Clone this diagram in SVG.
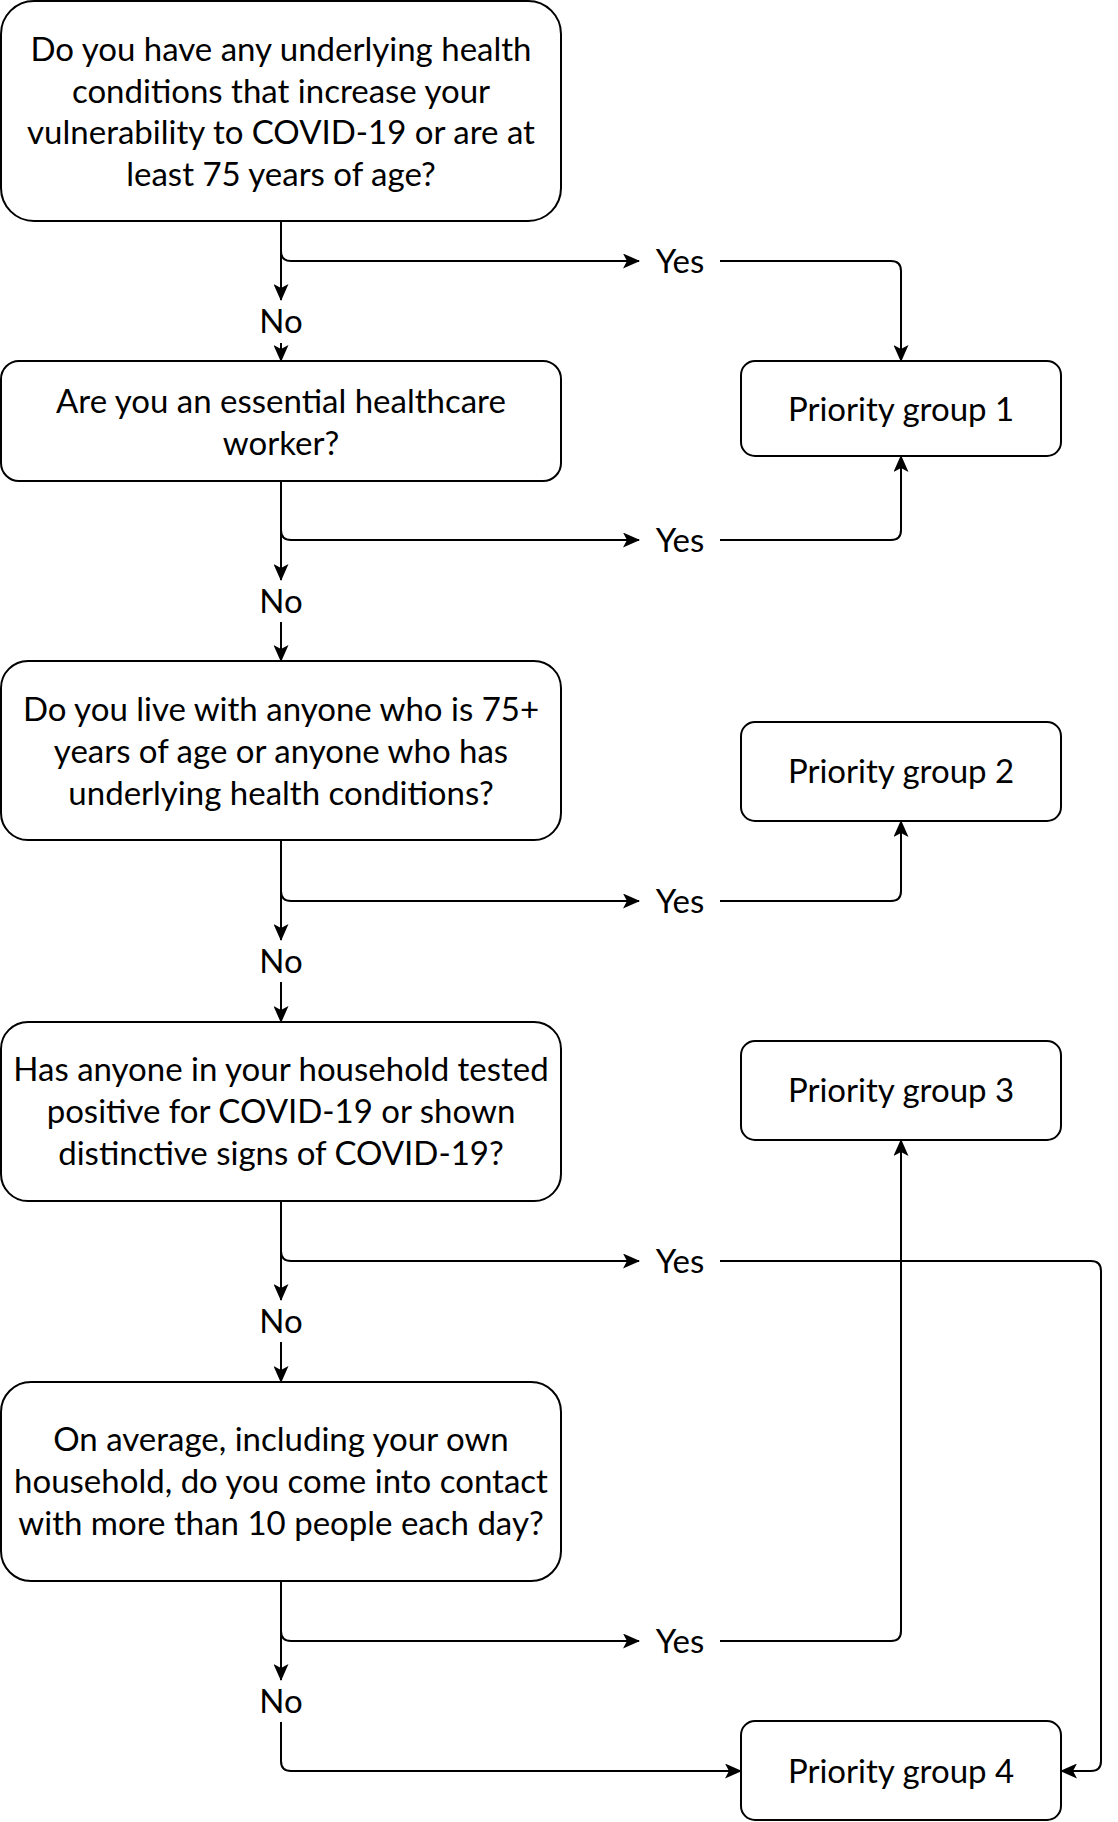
<svg xmlns="http://www.w3.org/2000/svg" width="1118" height="1822" viewBox="0 0 1118 1822">
<style>
.box{fill:#fff;stroke:#000;stroke-width:2}
.t{font-family:Lato,"Open Sans","Liberation Sans",sans-serif;font-size:33px;fill:#000;text-anchor:middle;dominant-baseline:central}
.e{fill:none;stroke:#000;stroke-width:2}
</style>
<defs>
<marker id="ah" markerUnits="userSpaceOnUse" markerWidth="17" markerHeight="15" viewBox="0 0 17 15" refX="16" refY="7.5" orient="auto">
<path d="M0,0 L17,7.5 L0,15 L4,7.5 Z" fill="#000"/>
</marker>
</defs>
<rect width="1118" height="1822" fill="#fff"/>
<g id="q1"><rect class="box" x="1" y="1" width="560" height="220" rx="33"/>
<text class="t" x="281" y="48">Do you have any underlying health</text>
<text class="t" x="281" y="90">conditions that increase your</text>
<text class="t" x="281" y="131">vulnerability to COVID-19 or are at</text>
<text class="t" x="281" y="173">least 75 years of age?</text></g>
<g id="q2"><rect class="box" x="1" y="361" width="560" height="120" rx="18"/>
<text class="t" x="281" y="400">Are you an essential healthcare</text>
<text class="t" x="281" y="442">worker?</text></g>
<g id="q3"><rect class="box" x="1" y="661" width="560" height="179" rx="27"/>
<text class="t" x="281" y="708">Do you live with anyone who is 75+</text>
<text class="t" x="281" y="750">years of age or anyone who has</text>
<text class="t" x="281" y="792">underlying health conditions?</text></g>
<g id="q4"><rect class="box" x="1" y="1022" width="560" height="179" rx="27"/>
<text class="t" x="281" y="1068">Has anyone in your household tested</text>
<text class="t" x="281" y="1110">positive for COVID-19 or shown</text>
<text class="t" x="281" y="1152">distinctive signs of COVID-19?</text></g>
<g id="q5"><rect class="box" x="1" y="1382" width="560" height="199" rx="30"/>
<text class="t" x="281" y="1438">On average, including your own</text>
<text class="t" x="281" y="1480">household, do you come into contact</text>
<text class="t" x="281" y="1522">with more than 10 people each day?</text></g>
<g id="pg1"><rect class="box" x="741" y="361" width="320" height="95" rx="14"/><text class="t" x="901" y="408">Priority group 1</text></g>
<g id="pg2"><rect class="box" x="741" y="722" width="320" height="99" rx="14"/><text class="t" x="901" y="770">Priority group 2</text></g>
<g id="pg3"><rect class="box" x="741" y="1041" width="320" height="99" rx="14"/><text class="t" x="901" y="1089">Priority group 3</text></g>
<g id="pg4"><rect class="box" x="741" y="1721" width="320" height="99" rx="14"/><text class="t" x="901" y="1770">Priority group 4</text></g>
<g id="labels">
<text class="t" x="680" y="260">Yes</text>
<text class="t" x="680" y="539">Yes</text>
<text class="t" x="680" y="900">Yes</text>
<text class="t" x="680" y="1260">Yes</text>
<text class="t" x="680" y="1640">Yes</text>
<text class="t" x="281" y="320">No</text>
<text class="t" x="281" y="600">No</text>
<text class="t" x="281" y="960">No</text>
<text class="t" x="281" y="1320">No</text>
<text class="t" x="281" y="1700">No</text>
</g>
<g id="connectors">
<path class="e" d="M281,221 L281,251 Q281,261 291,261 L639,261" marker-end="url(#ah)"/>
<path class="e" d="M281,221 L281,300" marker-end="url(#ah)"/>
<path class="e" d="M281,343 L281,361" marker-end="url(#ah)"/>
<path class="e" d="M720,261 L891,261 Q901,261 901,271 L901,361" marker-end="url(#ah)"/>
<path class="e" d="M281,481 L281,530 Q281,540 291,540 L639,540" marker-end="url(#ah)"/>
<path class="e" d="M281,481 L281,580" marker-end="url(#ah)"/>
<path class="e" d="M281,622 L281,661" marker-end="url(#ah)"/>
<path class="e" d="M720,540 L891,540 Q901,540 901,530 L901,456" marker-end="url(#ah)"/>
<path class="e" d="M281,840 L281,891 Q281,901 291,901 L639,901" marker-end="url(#ah)"/>
<path class="e" d="M281,840 L281,940" marker-end="url(#ah)"/>
<path class="e" d="M281,982 L281,1022" marker-end="url(#ah)"/>
<path class="e" d="M720,901 L891,901 Q901,901 901,891 L901,821" marker-end="url(#ah)"/>
<path class="e" d="M281,1201 L281,1251 Q281,1261 291,1261 L639,1261" marker-end="url(#ah)"/>
<path class="e" d="M281,1201 L281,1300" marker-end="url(#ah)"/>
<path class="e" d="M281,1342 L281,1382" marker-end="url(#ah)"/>
<path class="e" d="M720,1261 L1091,1261 Q1101,1261 1101,1271 L1101,1761 Q1101,1771 1091,1771 L1061,1771" marker-end="url(#ah)"/>
<path class="e" d="M281,1581 L281,1631 Q281,1641 291,1641 L639,1641" marker-end="url(#ah)"/>
<path class="e" d="M281,1581 L281,1680" marker-end="url(#ah)"/>
<path class="e" d="M281,1722 L281,1761 Q281,1771 291,1771 L741,1771" marker-end="url(#ah)"/>
<path class="e" d="M720,1641 L891,1641 Q901,1641 901,1631 L901,1140" marker-end="url(#ah)"/>
</g>
</svg>
